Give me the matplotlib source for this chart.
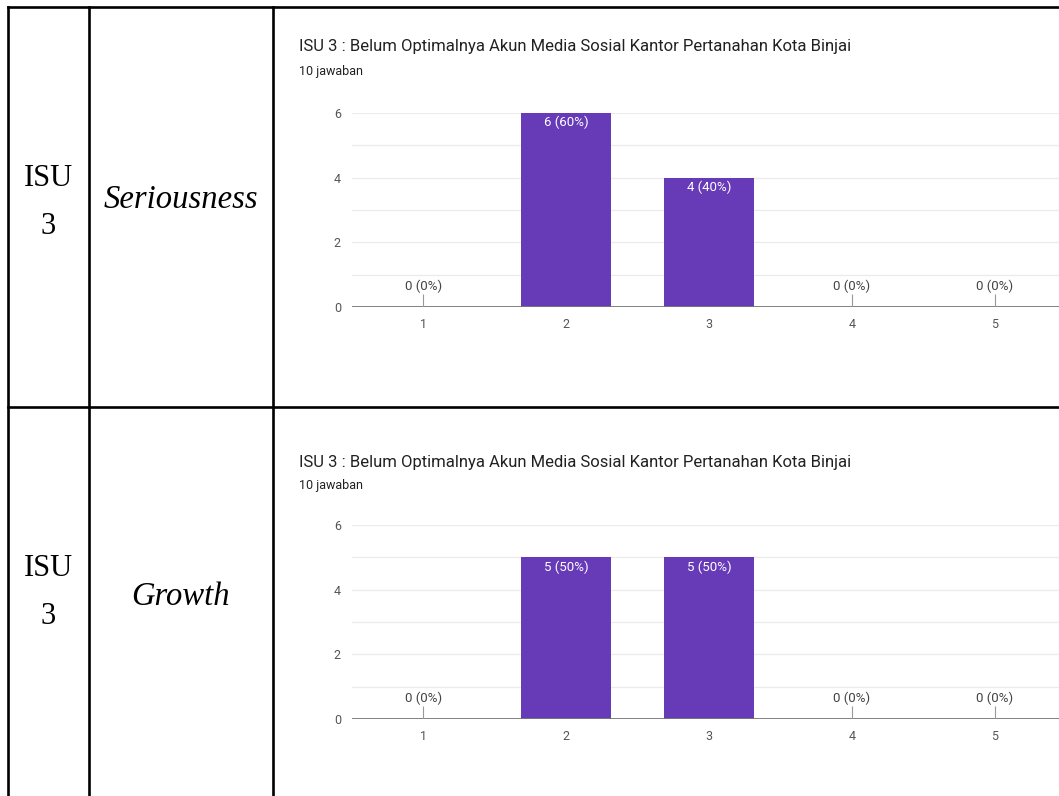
import numpy as np
import matplotlib
matplotlib.use("Agg")
import matplotlib.pyplot as plt

# data
categories = [1, 2, 3, 4, 5]
seriousness = [0, 6, 4, 0, 0]
growth = [0, 5, 5, 0, 0]
n_answers = 10
chart_title = "ISU 3 : Belum Optimalnya Akun Media Sosial Kantor Pertanahan Kota Binjai"
row_labels = ["Seriousness", "Growth"]

W, H = 1059, 796
purple = "#673ab7"

fig = plt.figure(figsize=(W / 100, H / 100), dpi=100)

# background axes in pixel coordinates for the table
bg = fig.add_axes([0, 0, 1, 1])
bg.set_xlim(0, W)
bg.set_ylim(H, 0)
bg.axis("off")

lw = 1.9
bg.plot([8, W], [7, 7], color="black", lw=lw)
bg.plot([8, W], [407, 407], color="black", lw=lw)
for x in [8, 89, 273]:
    bg.plot([x, x], [7, H], color="black", lw=lw)

serif = "Liberation Serif"
row_y = [(178, 226, 200), (569, 617, 597)]
for (y1, y2, ym), lab in zip(row_y, row_labels):
    bg.text(48, y1, "ISU", fontsize=22, family=serif, ha="center", va="center")
    bg.text(48, y2, "3", fontsize=22, family=serif, ha="center", va="center")
    bg.text(181, ym, lab, fontsize=23.5, family=serif, style="italic",
            ha="center", va="center")


def draw_chart(top, bottom, values):
    left, right = 352, 1066
    ax = fig.add_axes([left / W, 1 - bottom / H, (right - left) / W, (bottom - top) / H])
    ax.set_xlim(0.5, 5.5)
    ax.set_ylim(0, 6)
    ax.bar(categories, values, width=0.63, color=purple, zorder=3)
    for y in range(1, 7):
        ax.axhline(y, color="#ebebeb", lw=0.9, zorder=1)
    ax.axhline(0, color="#777777", lw=1.3, zorder=4)
    for s in ax.spines.values():
        s.set_visible(False)
    ax.set_yticks([0, 2, 4, 6])
    ax.set_xticks(categories)
    ax.tick_params(length=0, labelsize=9, labelcolor="#555555", pad=8)
    for lab in ax.get_xticklabels() + ax.get_yticklabels():
        lab.set_family("Roboto")
    for x, v in zip(categories, values):
        pct = "%d (%d%%)" % (v, round(100 * v / n_answers))
        if v > 0:
            ax.annotate(pct, (x, v), xytext=(0, -2), textcoords="offset points",
                        ha="center", va="top", color="white", fontsize=9.5,
                        family="Roboto", zorder=5)
        else:
            ax.vlines(x, 0, 0.4, color="#999999", lw=0.8, zorder=4)
            ax.annotate(pct, (x, 0.4), xytext=(0, 1), textcoords="offset points",
                        ha="center", va="bottom", color="#444444", fontsize=9.5,
                        family="Roboto", zorder=5)
    return ax


for (t, b, ty), vals in zip([(113, 307, 47), (525, 719, 462)], [seriousness, growth]):
    draw_chart(t, b, vals)
    bg.text(299, ty, chart_title, fontsize=12, family="Roboto", color="#212121",
            ha="left", va="center")
    bg.text(299, ty + 24, "%d jawaban" % n_answers, fontsize=9, family="Roboto",
            color="#212121", ha="left", va="center")

fig.savefig("out.png", dpi=100)
